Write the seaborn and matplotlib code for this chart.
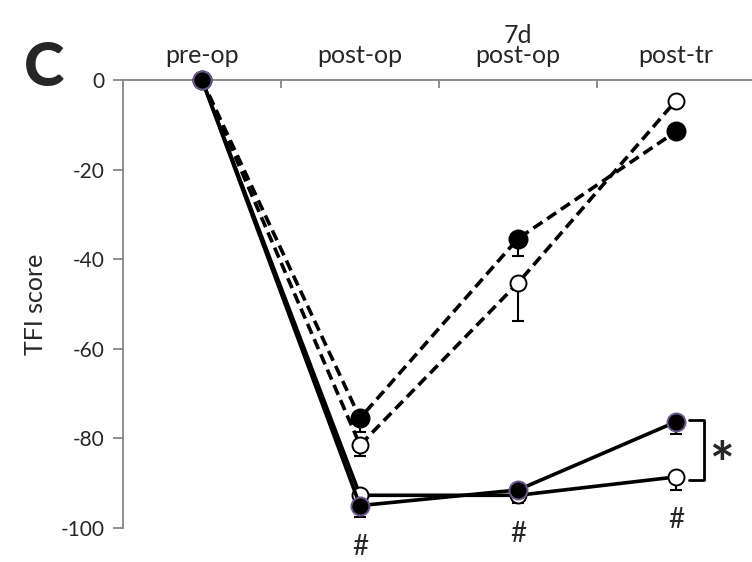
import numpy as np
import pandas as pd
import matplotlib
matplotlib.use("Agg")
import matplotlib.pyplot as plt
import seaborn as sns

# data
timepoints = ["pre-op", "post-op", "7d\npost-op", "post-tr"]
solid_filled = [0, -95.0, -91.5, -76.3]
solid_filled_err = [0, 2.5, 1.5, 2.7]
solid_open = [0, -92.7, -92.7, -88.6]
solid_open_err = [0, 0.5, 1.8, 3.0]
dashed_filled = [0, -75.5, -35.4, -11.5]
dashed_filled_err = [0, 3.0, 4.0, 0.8]
dashed_open = [0, -81.5, -45.3, -4.6]
dashed_open_err = [0, 2.5, 8.6, 0.8]
hash_y = [-104.3, -101.3, -98.2]

sns.set_theme(style="white")
plt.rcParams["font.family"] = ["Lato", "DejaVu Sans"]

fig = plt.figure(figsize=(7.52, 5.62), dpi=100)
ax = fig.add_axes([0.1636, 0.0605, 0.8404, 0.7972])

x = np.arange(len(timepoints))
series = [
    ("dashed_open", dashed_open, dashed_open_err, "--", "white", "black"),
    ("dashed_filled", dashed_filled, dashed_filled_err, "--", "black", "black"),
    ("solid_open", solid_open, solid_open_err, "-", "white", "black"),
    ("solid_filled", solid_filled, solid_filled_err, "-", "black", "#6a5a8c"),
]

for name, vals, err, ls, fc, ec in series:
    df = pd.DataFrame({"x": x, "y": vals})
    # lower error bars only
    ax.errorbar(x[1:], vals[1:], yerr=[err[1:], np.zeros(3)], fmt="none",
                ecolor="black", elinewidth=1.5, capsize=4, capthick=1.5, zorder=2)
    sns.lineplot(data=df, x="x", y="y", ax=ax, color="black", linestyle=ls,
                 linewidth=2.6, marker="o", markersize=13 if fc == "black" else 11.5,
                 markerfacecolor=fc, markeredgecolor=ec, markeredgewidth=1.4,
                 clip_on=False, zorder=3)
    if ls == "--":
        ax.lines[-1].set_dashes((3, 1.6))

ax.set_xlim(-0.5, 3.5)
ax.set_ylim(-100, 0)
ax.set_yticks([0, -20, -40, -60, -80, -100])
ax.set_yticklabels(["0", "-20", "-40", "-60", "-80", "-100"], fontsize=15)
ax.set_ylabel("TFI score", fontsize=18, labelpad=10)
ax.set_xlabel("")

ax.xaxis.tick_top()
ax.set_xticks([0.5, 1.5, 2.5])
ax.set_xticklabels([])
ax.set_xticks(x, minor=True)
ax.set_xticklabels(timepoints, minor=True, fontsize=18, linespacing=0.85)
ax.tick_params(axis="x", which="major", direction="in", length=6, width=1.3, color="#868686")
ax.tick_params(axis="x", which="minor", length=0, pad=9)
ax.tick_params(axis="y", which="major", direction="out", length=7, width=1.3, color="#868686", left=True, pad=6)

for side in ["right", "bottom"]:
    ax.spines[side].set_visible(False)
for side in ["left", "top"]:
    ax.spines[side].set_color("#868686")
    ax.spines[side].set_linewidth(1.3)

for xi, hy in zip(x[1:], hash_y):
    ax.text(xi, hy, "#", ha="center", va="center", fontsize=20, clip_on=False)

# significance bracket
bx0, bx1 = 3.082, 3.177
ax.plot([bx0, bx1, bx1, bx0], [-76.0, -76.0, -89.2, -89.2],
        color="black", linewidth=2.0, clip_on=False)
ax.text(3.285, -86.5, "*", ha="center", va="center",
        fontsize=42, fontweight="bold", clip_on=False)

fig.text(0.0585, 0.879, "C", fontsize=44, fontweight="black", ha="center", va="center")

fig.savefig("out.png", dpi=100)
